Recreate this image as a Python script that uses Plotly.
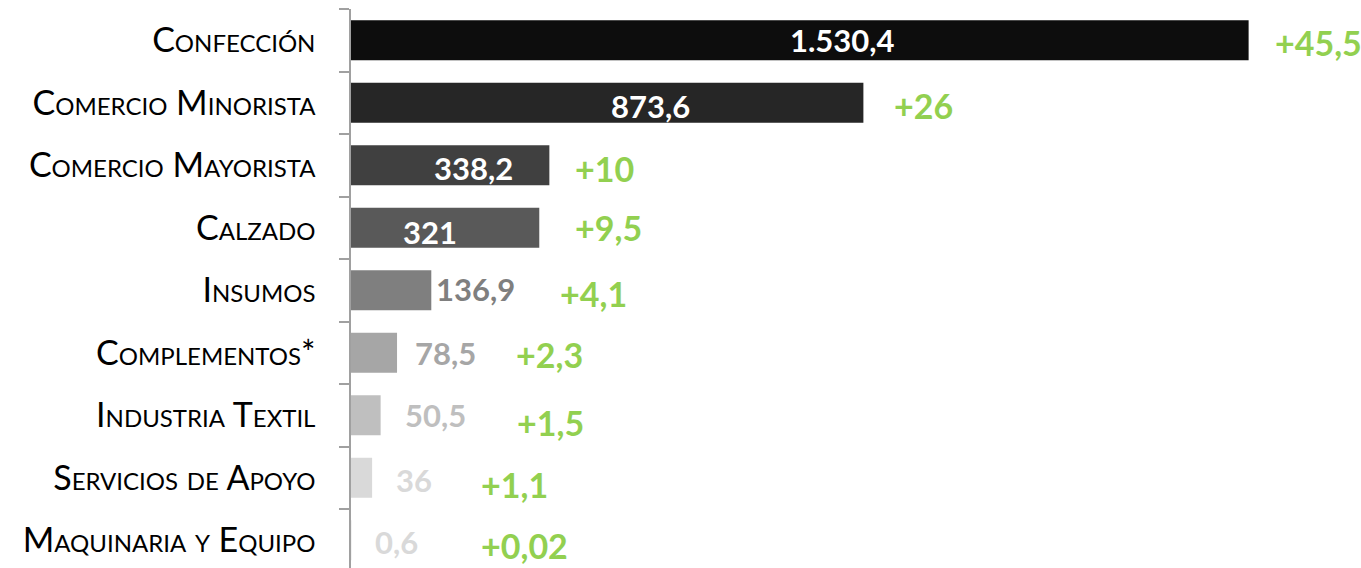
import plotly.graph_objects as go

# ---- data ----
categories = ["Confección", "Comercio Minorista", "Comercio Mayorista", "Calzado",
              "Insumos", "Complementos*", "Industria Textil", "Servicios de Apoyo",
              "Maquinaria y Equipo"]
values = [1530.4, 873.6, 338.2, 321, 136.9, 78.5, 50.5, 36, 0.6]
value_labels = ["1.530,4", "873,6", "338,2", "321", "136,9", "78,5", "50,5", "36", "0,6"]
growth_labels = ["+45,5", "+26", "+10", "+9,5", "+4,1", "+2,3", "+1,5", "+1,1", "+0,02"]

# ---- styles / layout ----
bar_colors = ["#0D0D0D", "#262626", "#404040", "#595959", "#7F7F7F",
              "#A6A6A6", "#BFBFBF", "#D9D9D9", "#F2F2F2"]
value_colors = ["#FFFFFF", "#FFFFFF", "#FFFFFF", "#FFFFFF", "#7F7F7F",
                "#A6A6A6", "#BFBFBF", "#D9D9D9", "#D9D9D9"]
value_anchor = ["center", "center", "center", "center", "left", "left", "left", "left", "left"]
value_xshift = [-406, -213, -76, -109, 3, 16, 22, 22, 22]
value_yshift = [0, -3, -3, -4, 1, 0, 0, -2, -2]
green_xshift = [24, 29, 24, 34, 127, 117, 134, 107, 128]
green_yshift = [-2, -3, -3, 0, -3, -2, -7, -7, -5]
GREEN = "#92D050"
AXIS = "#A0A0A0"
NUM_FONT = "Lato"

idx = list(range(len(categories)))

fig = go.Figure(go.Bar(
    x=values, y=idx, orientation="h",
    marker=dict(color=bar_colors, line=dict(width=0)),
    width=0.64, showlegend=False, hoverinfo="skip",
))

for i in idx:
    fig.add_annotation(x=values[i], y=i, xref="x", yref="y", text=f"<b>{value_labels[i]}</b>",
                       showarrow=False, xanchor=value_anchor[i], yanchor="middle",
                       xshift=value_xshift[i], yshift=value_yshift[i],
                       font=dict(family=NUM_FONT, size=31, color=value_colors[i]))
    fig.add_annotation(x=values[i], y=i, xref="x", yref="y", text=f"<b>{growth_labels[i]}</b>",
                       showarrow=False, xanchor="left", yanchor="middle",
                       xshift=green_xshift[i], yshift=green_yshift[i],
                       font=dict(family=NUM_FONT, size=34, color=GREEN))

fig.update_layout(
    width=1361, height=568,
    margin=dict(l=351, r=0, t=9, b=0),
    plot_bgcolor="white", paper_bgcolor="white",
    bargap=0.36,
)
fig.update_xaxes(range=[0, 1722], visible=False, showgrid=False, zeroline=False, fixedrange=True)
fig.update_yaxes(
    range=[8.444, -0.5], tickmode="array", tickvals=idx, ticktext=categories,
    ticks="", showgrid=False, zeroline=False,
    showline=True, linecolor=AXIS, linewidth=1.5,
    ticklabelstandoff=27,
    tickfont=dict(family="Lato", size=34, color="#000000", variant="small-caps"),
    minor=dict(tickmode="array", tickvals=[i - 0.5 for i in range(10)], ticks="outside",
               ticklen=10, tickcolor=AXIS, tickwidth=1.5, showgrid=False),
)

fig.write_html("out.html", config={"displayModeBar": False},
               post_script="document.body.style.margin='0';document.body.style.overflow='hidden';")
